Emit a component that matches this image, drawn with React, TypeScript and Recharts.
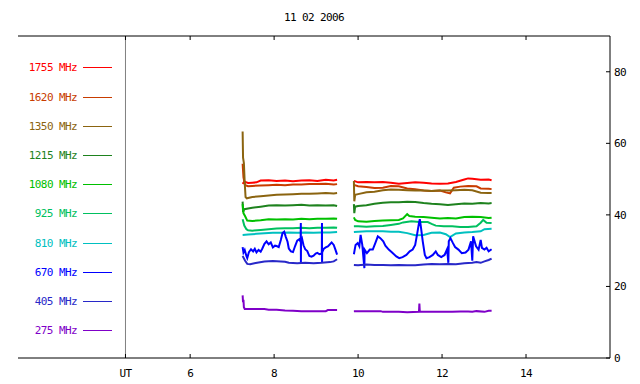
import React from 'react';
import { LineChart, Line, XAxis, YAxis, ReferenceLine, Legend } from 'recharts';

type Pt = [number, number | null];

const TITLE = '11 02 2006';
const X_TICKS = [4.46, 6, 8, 10, 12, 14];
const Y_TICKS = [0, 20, 40, 60, 80];
const UT_HOUR = 4.46;
const X_DOMAIN: [number, number] = [1.9, 16];
const Y_DOMAIN: [number, number] = [0, 90];
const GAP: Pt = [9.7, null];

const S1755: Pt[] = [
  [7.25, 48.7], [7.29, 49.3], [7.38, 48.9], [7.48, 49.0], [7.58, 49.1], [7.68, 49.6], [7.87, 49.7], [8.06, 49.5],
  [8.26, 49.6], [8.45, 49.4], [8.65, 49.6], [8.84, 49.7], [9.03, 49.5], [9.23, 49.8], [9.42, 49.6], [9.5, 49.8],
  GAP,
  [9.9, 49.5], [10.0, 49.1], [10.2, 49.2], [10.39, 49.1], [10.59, 49.2], [10.78, 49.0], [10.97, 48.7], [11.17, 48.9],
  [11.36, 49.1], [11.56, 49.0], [11.75, 48.8], [11.95, 48.7], [12.14, 48.8], [12.33, 49.2], [12.53, 49.9], [12.62, 50.2],
  [12.72, 50.1], [12.92, 49.8], [13.11, 49.9], [13.18, 49.7],
];

const S1620: Pt[] = [
  [7.25, 54.3], [7.27, 50.5], [7.31, 48.3], [7.38, 48.0], [7.48, 48.1], [7.68, 48.2], [7.87, 48.3], [8.06, 48.4],
  [8.26, 48.3], [8.45, 48.5], [8.65, 48.5], [8.84, 48.6], [9.03, 48.6], [9.23, 48.7], [9.42, 48.5], [9.5, 48.6],
  GAP,
  [9.9, 48.4], [10.0, 48.0], [10.2, 47.8], [10.39, 47.5], [10.59, 47.6], [10.78, 48.1], [10.97, 48.0], [11.17, 47.4],
  [11.36, 47.2], [11.56, 46.8], [11.75, 46.7], [11.95, 46.8], [12.09, 46.3], [12.19, 46.0], [12.28, 47.6], [12.43, 47.9],
  [12.62, 48.1], [12.82, 48.0], [12.92, 47.4], [13.11, 47.3], [13.18, 47.2],
];

const S1350: Pt[] = [
  [7.25, 63.3], [7.26, 56.0], [7.28, 54.5], [7.3, 49.0], [7.32, 45.0], [7.35, 44.6], [7.38, 44.7], [7.48, 45.0],
  [7.68, 45.2], [7.87, 45.4], [8.06, 45.6], [8.26, 45.7], [8.45, 45.8], [8.65, 45.9], [8.84, 45.9], [9.03, 46.0],
  [9.23, 46.1], [9.42, 46.0], [9.5, 46.1],
  GAP,
  [9.9, 49.5], [9.91, 43.8], [9.93, 45.6], [10.0, 45.8], [10.2, 46.3], [10.39, 46.5], [10.59, 46.9], [10.78, 47.1],
  [10.97, 47.0], [11.17, 46.9], [11.36, 46.8], [11.56, 46.8], [11.75, 46.7], [11.95, 46.8], [12.14, 46.8], [12.33, 46.9],
  [12.53, 47.0], [12.72, 46.9], [12.92, 46.2], [13.11, 46.1], [13.18, 46.1],
];

const S1215: Pt[] = [
  [7.25, 43.7], [7.26, 40.8], [7.29, 41.6], [7.38, 41.8], [7.48, 42.0], [7.68, 42.3], [7.87, 42.6], [8.06, 42.7],
  [8.26, 42.6], [8.45, 42.7], [8.65, 42.8], [8.84, 42.6], [9.03, 42.7], [9.23, 42.6], [9.42, 42.7], [9.5, 42.5],
  GAP,
  [9.9, 43.0], [9.91, 40.5], [9.93, 42.3], [10.0, 42.5], [10.2, 42.7], [10.39, 43.1], [10.59, 43.4], [10.78, 43.5],
  [10.97, 43.5], [11.17, 43.7], [11.36, 43.6], [11.56, 43.3], [11.75, 43.1], [11.95, 43.0], [12.14, 42.8], [12.33, 43.0],
  [12.53, 43.2], [12.72, 43.1], [12.92, 43.3], [13.11, 43.2], [13.18, 43.3],
];

const S1080: Pt[] = [
  [7.25, 43.0], [7.27, 40.5], [7.31, 39.6], [7.36, 38.4], [7.48, 38.3], [7.68, 38.5], [7.87, 38.8], [8.06, 38.7],
  [8.26, 38.8], [8.45, 38.7], [8.65, 38.9], [8.84, 38.8], [9.03, 38.9], [9.23, 38.9], [9.42, 39.0], [9.5, 38.9],
  GAP,
  [9.9, 39.3], [9.93, 38.6], [10.0, 38.2], [10.2, 38.1], [10.39, 38.3], [10.59, 38.4], [10.78, 38.5], [10.97, 38.6],
  [11.07, 39.0], [11.17, 40.2], [11.22, 39.7], [11.36, 39.5], [11.56, 39.4], [11.75, 39.2], [11.95, 39.0], [12.14, 39.1],
  [12.33, 39.0], [12.53, 39.4], [12.72, 39.5], [12.92, 39.4], [13.11, 39.1], [13.18, 39.2],
];

const S925: Pt[] = [
  [7.25, 38.8], [7.29, 37.0], [7.34, 36.0], [7.38, 35.7], [7.48, 35.6], [7.68, 35.8], [7.87, 36.0], [8.06, 36.2],
  [8.26, 36.3], [8.45, 36.3], [8.65, 36.4], [8.84, 36.3], [9.03, 36.4], [9.23, 36.4], [9.42, 36.5], [9.5, 36.4],
  GAP,
  [9.9, 36.8], [10.0, 36.8], [10.2, 36.7], [10.39, 36.8], [10.59, 36.9], [10.78, 37.2], [10.97, 37.5], [11.07, 37.9],
  [11.27, 38.2], [11.46, 38.0], [11.66, 38.0], [11.75, 37.5], [11.85, 37.0], [12.04, 36.8], [12.24, 36.8], [12.43, 36.6],
  [12.62, 36.6], [12.82, 36.8], [12.92, 37.8], [12.98, 38.6], [13.06, 37.8], [13.18, 37.7],
];

const S810: Pt[] = [
  [7.25, 34.4], [7.38, 34.5], [7.58, 34.7], [7.77, 34.9], [7.97, 35.0], [8.16, 35.0], [8.35, 35.1], [8.55, 35.0],
  [8.74, 35.1], [8.94, 35.0], [9.13, 35.1], [9.33, 35.1], [9.5, 35.2],
  GAP,
  [9.9, 35.2], [10.0, 35.3], [10.2, 35.4], [10.39, 35.4], [10.59, 35.4], [10.78, 35.3], [10.97, 35.3], [11.17, 34.9],
  [11.36, 34.3], [11.56, 34.4], [11.75, 35.0], [11.95, 35.1], [12.09, 34.6], [12.19, 33.8], [12.33, 34.8], [12.53, 35.1],
  [12.72, 35.2], [12.92, 35.4], [13.01, 36.0], [13.18, 36.1],
];

const S670: Pt[] = [
  [7.25, 31.0], [7.27, 29.5], [7.3, 30.2], [7.34, 28.5], [7.36, 27.9], [7.4, 29.6], [7.45, 30.4], [7.5, 29.8],
  [7.54, 30.5], [7.58, 29.5], [7.63, 30.2], [7.68, 29.7], [7.72, 30.6], [7.77, 31.9], [7.82, 32.6], [7.87, 31.8],
  [7.92, 32.3], [7.97, 30.9], [8.02, 31.4], [8.06, 31.3], [8.11, 31.0], [8.16, 33.0], [8.2, 34.9], [8.24, 35.3],
  [8.28, 33.8], [8.32, 32.5], [8.35, 30.6], [8.4, 29.8], [8.45, 29.6], [8.5, 31.3], [8.55, 32.8], [8.6, 33.2],
  [8.631, 32.5], [8.636, 37.7], [8.638, 26.6], [8.641, 32.8], [8.665, 33.4], [8.7, 31.5], [8.74, 30.4], [8.79, 29.9],
  [8.84, 28.5], [8.89, 28.3], [8.94, 28.6], [8.99, 29.2], [9.03, 29.4], [9.08, 29.0], [9.136, 29.2], [9.14, 37.7],
  [9.142, 26.6], [9.145, 29.5], [9.18, 30.5], [9.23, 30.9], [9.28, 31.2], [9.33, 31.8], [9.37, 32.3], [9.42, 31.6],
  [9.46, 30.3], [9.5, 28.9],
  GAP,
  [9.9, 29.0], [9.94, 31.6], [9.99, 32.1], [10.03, 31.2], [10.06, 34.4], [10.1, 31.6], [10.15, 25.1], [10.155, 30.3],
  [10.21, 29.3], [10.28, 30.3], [10.35, 30.3], [10.41, 32.1], [10.47, 34.0], [10.53, 33.5], [10.6, 32.6], [10.65, 31.4],
  [10.73, 30.3], [10.81, 29.5], [10.91, 28.4], [10.98, 27.9], [11.06, 28.2], [11.15, 28.8], [11.23, 29.8], [11.3, 30.3],
  [11.36, 31.6], [11.41, 34.9], [11.45, 37.7], [11.47, 38.8], [11.5, 36.3], [11.54, 32.6], [11.59, 28.8], [11.63, 27.9],
  [11.7, 28.2], [11.78, 28.8], [11.85, 29.8], [11.9, 28.8], [11.98, 28.2], [12.06, 28.8], [12.12, 30.4], [12.15, 26.6],
  [12.16, 32.6], [12.2, 33.5], [12.26, 32.1], [12.31, 31.0], [12.39, 30.3], [12.47, 29.3], [12.56, 29.5], [12.63, 30.3],
  [12.69, 32.6], [12.72, 27.2], [12.74, 34.0], [12.81, 31.2], [12.87, 30.3], [12.92, 33.0], [12.95, 30.8], [13.01, 30.3],
  [13.06, 30.8], [13.11, 29.8], [13.18, 30.4],
];

const S405: Pt[] = [
  [7.25, 28.5], [7.31, 27.2], [7.36, 26.3], [7.43, 26.2], [7.53, 26.5], [7.63, 26.7], [7.77, 27.0], [7.97, 27.1],
  [8.16, 27.0], [8.26, 26.9], [8.35, 26.6], [8.55, 26.5], [8.74, 26.6], [8.94, 26.5], [9.13, 26.6], [9.33, 26.8],
  [9.42, 27.0], [9.5, 27.6],
  GAP,
  [9.9, 26.0], [10.0, 25.9], [10.2, 26.1], [10.39, 26.0], [10.59, 26.0], [10.78, 25.9], [10.97, 26.0], [11.17, 25.9],
  [11.36, 25.9], [11.56, 26.1], [11.75, 26.3], [11.95, 26.2], [12.14, 26.3], [12.33, 26.2], [12.53, 26.5], [12.72, 26.6],
  [12.82, 26.8], [12.92, 26.6], [13.01, 27.0], [13.11, 27.4], [13.18, 27.8],
];

const S275: Pt[] = [
  [7.25, 17.5], [7.26, 15.6], [7.27, 16.3], [7.28, 14.2], [7.3, 13.7], [7.58, 13.7], [7.77, 13.7], [7.87, 13.5],
  [8.06, 13.5], [8.26, 13.3], [8.45, 13.2], [8.65, 13.1], [8.84, 13.1], [9.03, 13.1], [9.23, 13.1], [9.28, 13.4],
  [9.5, 13.4],
  GAP,
  [9.9, 13.1], [10.3, 13.1], [10.54, 13.1], [10.59, 12.9], [10.97, 12.9], [11.17, 12.8], [11.45, 12.9], [11.46, 15.2],
  [11.47, 12.9], [11.75, 12.9], [12.24, 12.9], [12.43, 13.0], [12.62, 13.0], [12.72, 12.9], [12.82, 13.1], [13.01, 12.9],
  [13.11, 13.2], [13.18, 13.2],
];

const SERIES = [
  { name: '1755 MHz', color: '#ff0000', points: S1755 },
  { name: '1620 MHz', color: '#c83c00', points: S1620 },
  { name: '1350 MHz', color: '#8b6410', points: S1350 },
  { name: '1215 MHz', color: '#1e821e', points: S1215 },
  { name: '1080 MHz', color: '#00c000', points: S1080 },
  { name: '925 MHz', color: '#00c060', points: S925 },
  { name: '810 MHz', color: '#00c0c0', points: S810 },
  { name: '670 MHz', color: '#0000ff', points: S670 },
  { name: '405 MHz', color: '#2828c8', points: S405 },
  { name: '275 MHz', color: '#7f00c8', points: S275 },
];

const FONT = '"DejaVu Sans Mono", "Liberation Mono", monospace';

const toRows = (pts: Pt[]) => pts.map(([t, v]) => ({ t, v }));

const LegendBox = () => (
  <div style={{ position: 'relative', width: 125, height: 384, fontFamily: FONT }}>
    {SERIES.map((s, i) => {
      const y = 67.3 + i * 29.22;
      return (
        <React.Fragment key={s.name}>
          <div
            style={{
              position: 'absolute',
              left: 0,
              width: 77,
              top: y - 5,
              textAlign: 'right',
              fontSize: 11,
              lineHeight: '12px',
              letterSpacing: '-0.6px',
              color: s.color,
              whiteSpace: 'nowrap',
            }}
          >
            {s.name}
          </div>
          <div
            style={{
              position: 'absolute',
              left: 83,
              width: 29,
              top: Math.round(y) - 0.5,
              height: 1,
              background: s.color,
            }}
          />
        </React.Fragment>
      );
    })}
  </div>
);

const tickStyle = { fontSize: 11, fill: '#000', fontFamily: FONT, letterSpacing: '-0.6px' };

export default function App() {
  return (
    <div style={{ position: 'absolute', left: 0, top: 0, width: 640, height: 384, background: '#fff' }}>
      <LineChart width={640} height={384} margin={{ top: 0, right: 0, bottom: 0, left: 18 }}>
        <XAxis
          xAxisId="top"
          orientation="top"
          type="number"
          dataKey="t"
          domain={X_DOMAIN}
          ticks={X_TICKS}
          height={36}
          tickSize={-4}
          tickFormatter={() => ''}
          stroke="#000"
          allowDataOverflow
          label={{ value: TITLE, position: 'insideTop', offset: 13, fill: '#000', fontSize: 11, fontFamily: FONT, letterSpacing: '-0.6px' }}
        />
        <XAxis
          type="number"
          dataKey="t"
          domain={X_DOMAIN}
          ticks={X_TICKS}
          height={26}
          tickSize={-4}
          tickMargin={15}
          tickFormatter={(v: number) => (v < 5 ? 'UT' : String(v))}
          tick={tickStyle}
          stroke="#000"
          allowDataOverflow
        />
        <YAxis
          orientation="right"
          type="number"
          domain={Y_DOMAIN}
          ticks={Y_TICKS}
          width={30}
          tickSize={-4}
          tickMargin={8}
          tick={{ ...tickStyle, textAnchor: 'start' }}
          stroke="#000"
          allowDataOverflow
        />
        <YAxis
          yAxisId="left"
          orientation="left"
          type="number"
          domain={Y_DOMAIN}
          width={0}
          tick={false}
          tickLine={false}
          stroke="#000"
        />
        <ReferenceLine x={UT_HOUR} stroke="#808080" strokeWidth={1} />
        <Legend
          layout="horizontal"
          verticalAlign="middle"
          align="center"
          wrapperStyle={{ left: 0, top: 0, width: 125, height: 384 }}
          content={() => <LegendBox />}
        />
        {SERIES.map((s) => (
          <Line
            key={s.name}
            name={s.name}
            data={toRows(s.points)}
            dataKey="v"
            type="linear"
            stroke={s.color}
            strokeWidth={2}
            dot={false}
            activeDot={false}
            connectNulls={false}
            isAnimationActive={false}
          />
        ))}
      </LineChart>
    </div>
  );
}
